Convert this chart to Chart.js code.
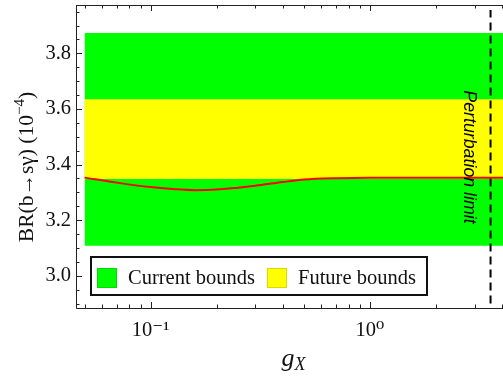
<!DOCTYPE html>
<html>
<head>
<meta charset="utf-8">
<script src="https://cdn.jsdelivr.net/npm/chart.js@4.4.0/dist/chart.umd.min.js"></script>
<style>
  html, body { margin: 0; padding: 0; background: #fff; }
  #wrap { width: 503px; height: 377px; }
</style>
</head>
<body>
<div id="wrap"><canvas id="chart"></canvas></div>
<script>
// values
const gX = [0.05, 0.07, 0.1, 0.13, 0.16, 0.2, 0.25, 0.3, 0.4, 0.5, 0.7, 1, 1.5, 2, 3, 4.05];
const brValues = [3.353, 3.335, 3.319, 3.311, 3.308, 3.310, 3.317, 3.324, 3.337, 3.346, 3.351, 3.353, 3.353, 3.353, 3.353, 3.353];
const bandX = [0.05, 4.05];
const currentBounds = [3.108, 3.873];
const futureBounds = [3.348, 3.635];
const perturbLimit = 3.545;
const limitY = [2.90, 3.956];

// ticks
const xMajor = [0.1, 1];
const xLabels = ['10\u207B\u00B9', '10\u2070'];
const xMinor = [0.05, 0.06, 0.07, 0.08, 0.09, 0.2, 0.3, 0.4, 0.5, 0.6, 0.7, 0.8, 0.9, 2, 3, 4];
const yMajor = [3.0, 3.2, 3.4, 3.6, 3.8];
const yMinor = [2.90, 2.95, 3.05, 3.10, 3.15, 3.25, 3.30, 3.35, 3.45, 3.50, 3.55, 3.65, 3.70, 3.75, 3.85, 3.90, 3.95];

const serif = "'Liberation Serif', 'DejaVu Serif', serif";
const frameColor = '#222';

// frame, inside ticks, legend, annotations
const decorPlugin = {
    id: 'decor',
    afterDraw(chart) {
        const ctx = chart.ctx;
        const area = chart.chartArea;
        const xs = chart.scales.x;
        const ys = chart.scales.y;
        ctx.save();

        // frame
        ctx.strokeStyle = frameColor;
        ctx.lineWidth = 1;
        ctx.beginPath();
        ctx.moveTo(area.left + 0.5, area.top + 0.5);
        ctx.lineTo(area.right, area.top + 0.5);
        ctx.moveTo(area.left + 0.5, area.top);
        ctx.lineTo(area.left + 0.5, area.bottom + 0.5);
        ctx.lineTo(area.right, area.bottom + 0.5);
        ctx.stroke();

        // ticks
        ctx.beginPath();
        const xTick = (v, len) => {
            const px = Math.round(xs.getPixelForValue(v)) + 0.5;
            ctx.moveTo(px, area.bottom);
            ctx.lineTo(px, area.bottom - len);
            ctx.moveTo(px, area.top);
            ctx.lineTo(px, area.top + len);
        };
        xMajor.forEach(v => xTick(v, 6));
        xMinor.forEach(v => xTick(v, 3.5));
        const yTick = (v, len) => {
            const py = Math.round(ys.getPixelForValue(v)) + 0.5;
            ctx.moveTo(area.left, py);
            ctx.lineTo(area.left + len, py);
        };
        yMajor.forEach(v => yTick(v, 6));
        yMinor.forEach(v => yTick(v, 3.5));
        ctx.stroke();

        // legend box
        const lx = area.left + 15, ly = area.bottom - 51, lw = 336, lh = 38;
        ctx.fillStyle = '#fff';
        ctx.fillRect(lx, ly, lw, lh);
        ctx.lineWidth = 2;
        ctx.strokeStyle = '#111';
        ctx.strokeRect(lx, ly, lw, lh);
        const items = [chart.data.datasets[0], chart.data.datasets[1]];
        const offsets = [6, 176];
        ctx.font = '20.5px ' + serif;
        ctx.textBaseline = 'alphabetic';
        ctx.textAlign = 'left';
        items.forEach((ds, i) => {
            const sx = lx + offsets[i];
            ctx.fillStyle = ds.backgroundColor;
            ctx.fillRect(sx, ly + 11, 20, 20);
            ctx.lineWidth = 1;
            ctx.strokeStyle = 'rgba(0,0,0,0.15)';
            ctx.strokeRect(sx + 0.5, ly + 11.5, 19, 19);
            ctx.fillStyle = '#111';
            ctx.fillText(ds.label, sx + 31, ly + 27);
        });

        // perturbation limit label
        const dx = xs.getPixelForValue(perturbLimit);
        ctx.save();
        ctx.translate(dx - 27, area.top + 152);
        ctx.rotate(Math.PI / 2);
        ctx.font = 'italic 17.8px "Liberation Sans", Arial, sans-serif';
        ctx.fillStyle = '#000';
        ctx.textAlign = 'center';
        ctx.textBaseline = 'alphabetic';
        ctx.fillText('Perturbation limit', 0, 0);
        ctx.restore();

        // y title
        ctx.save();
        ctx.translate(33, 167);
        ctx.rotate(-Math.PI / 2);
        drawRich(ctx, [
            { text: 'BR(b\u2192s\u03B3) (10', font: '21.5px ' + serif, dy: 0 },
            { text: '\u22124', font: '15px ' + serif, dy: -9 },
            { text: ')', font: '21.5px ' + serif, dy: 0 }
        ]);
        ctx.restore();

        // x title
        ctx.save();
        ctx.translate((area.left + area.right) / 2 + 4, 366);
        drawRich(ctx, [
            { text: 'g', font: 'italic 26px ' + serif, dy: 0 },
            { text: 'X', font: 'italic 18px ' + serif, dy: 4 }
        ]);
        ctx.restore();

        ctx.restore();
    }
};

function drawRich(ctx, parts) {
    let total = 0;
    parts.forEach(p => { ctx.font = p.font; total += ctx.measureText(p.text).width; });
    let x = -total / 2;
    ctx.fillStyle = '#111';
    ctx.textAlign = 'left';
    ctx.textBaseline = 'alphabetic';
    parts.forEach(p => {
        ctx.font = p.font;
        ctx.fillText(p.text, x, p.dy);
        x += ctx.measureText(p.text).width;
    });
}

const band = (lims) => bandX.map(x => ({ x: x, y: lims[1] }));

const ctx = document.getElementById('chart').getContext('2d');
const chart = new Chart(ctx, {
    type: 'line',
    data: {
        datasets: [
            {
                label: 'Current bounds',
                data: band(currentBounds),
                backgroundColor: '#00ff00',
                borderWidth: 0,
                pointRadius: 0,
                fill: { value: currentBounds[0] },
                order: 4
            },
            {
                label: 'Future bounds',
                data: band(futureBounds),
                backgroundColor: '#ffff00',
                borderWidth: 0,
                pointRadius: 0,
                fill: { value: futureBounds[0] },
                order: 3
            },
            {
                label: 'BR',
                data: gX.map((x, i) => ({ x: x, y: brValues[i] })),
                borderColor: '#ff0000',
                borderWidth: 2,
                pointRadius: 0,
                cubicInterpolationMode: 'monotone',
                fill: false,
                order: 1
            },
            {
                label: 'Perturbation limit',
                data: limitY.map(y => ({ x: perturbLimit, y: y })),
                borderColor: '#000',
                borderWidth: 2,
                borderDash: [8, 5],
                pointRadius: 0,
                fill: false,
                order: 0
            }
        ]
    },
    options: {
        responsive: true,
        maintainAspectRatio: false,
        animation: false,
        devicePixelRatio: 1,
        layout: { padding: { top: 5, right: 0, left: 0, bottom: 0 } },
        plugins: {
            legend: { display: false },
            tooltip: { enabled: false }
        },
        scales: {
            x: {
                type: 'logarithmic',
                min: 0.0457,
                max: 4.04,
                grid: { display: false, drawTicks: false },
                border: { display: false },
                afterBuildTicks: (scale) => { scale.ticks = xMajor.map(v => ({ value: v })); },
                afterFit: (scale) => { scale.height = 69; scale.paddingLeft = 0; scale.paddingRight = 0; },
                ticks: {
                    autoSkip: false,
                    maxRotation: 0,
                    padding: 10,
                    color: '#111',
                    font: { family: serif, size: 20.5 },
                    callback: (v) => xLabels[xMajor.indexOf(v)]
                }
            },
            y: {
                type: 'linear',
                min: 2.884,
                max: 3.974,
                grid: { display: false, drawTicks: false },
                border: { display: false },
                afterBuildTicks: (scale) => { scale.ticks = yMajor.map(v => ({ value: v })); },
                afterFit: (scale) => { scale.width = 76; scale.paddingTop = 0; scale.paddingBottom = 0; },
                ticks: {
                    padding: 5,
                    color: '#111',
                    font: { family: serif, size: 20.5 },
                    callback: (v) => v.toFixed(1)
                }
            }
        }
    },
    plugins: [decorPlugin]
});
</script>
</body>
</html>
